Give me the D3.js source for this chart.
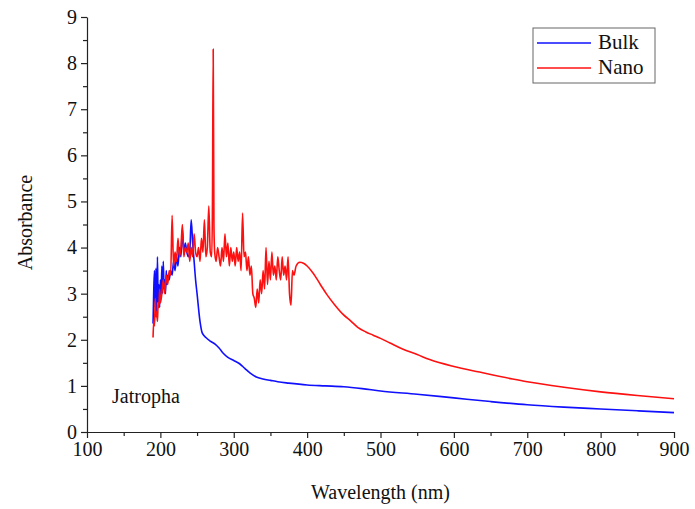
<!DOCTYPE html>
<html>
<head>
<meta charset="utf-8">
<script src="https://cdn.jsdelivr.net/npm/d3@7"></script>
<style>
  body { margin: 0; background: #fff; }
</style>
</head>
<body>
<svg id="chart" width="695" height="509"></svg>
<script>
// data
const bulkWavelength = [190,191,192,193,194,195,196,197,198,199,200,201,202,203,204,205,206,207,208,209,210,212,214,216,218,220,222,224,226,228,230,232,234,236,238,240,242,244,246,248,250,254,257,262,268,275,280,285,292,300,308,315,322,330,340,350,360,375,400,425,450,475,500,550,600,650,700,750,800,850,900]
const bulkAbsorbance = [2.35,3.1,3.5,2.7,3.55,2.6,3.8,2.8,3.2,2.7,3.3,2.9,3.6,3.0,3.7,3.1,3.3,3.0,3.5,3.2,3.4,3.3,3.5,3.4,3.7,3.5,3.8,3.6,4.0,3.8,4.4,3.9,4.1,3.9,3.8,3.9,4.6,4.1,3.7,3.3,3.0,2.4,2.15,2.05,1.97,1.9,1.82,1.72,1.62,1.55,1.48,1.38,1.28,1.2,1.15,1.12,1.09,1.06,1.02,1.0,0.98,0.94,0.89,0.82,0.74,0.66,0.59,0.54,0.5,0.46,0.42]

const nanoWavelength = [190,191,192,193,194,195,196,197,198,199,200,202,204,206,208,210,212,214,216,218,220,222,224,226,228,230,232,234,236,238,240,242,244,246,248,250,252,254,256,258,260,262,264,266,268,270,271,272,273,274,276,278,280,282,284,286,288,290,292,294,296,298,300,302,304,306,308,310,312,314,316,318,320,322,324,326,328,330,332,334,336,338,340,342,344,346,348,350,352,354,356,358,360,362,364,366,368,370,372,374,376,378,380,382,385,390,395,400,408,418,427,438,449,460,469,480,490,500,513,530,550,567,600,635,680,700,750,800,850,900]
const nanoAbsorbance = [2.05,2.4,2.3,2.9,2.5,2.6,2.4,2.8,2.7,3.1,2.8,3.0,3.3,3.0,3.4,3.2,3.5,3.4,4.7,3.6,3.9,3.7,4.2,3.8,4.0,4.5,3.8,4.0,3.9,4.1,3.7,4.0,3.8,4.3,3.9,3.8,4.0,3.7,4.2,3.9,4.6,3.8,4.0,4.9,3.9,3.8,5.0,8.3,4.5,3.9,3.7,4.0,3.8,3.6,4.0,3.7,4.3,3.8,4.1,3.6,4.0,3.7,3.9,3.6,4.0,3.7,3.9,3.5,4.75,3.8,3.9,3.5,3.8,3.4,3.6,3.0,2.9,2.7,3.1,2.8,3.3,3.0,3.5,3.1,4.0,3.2,3.7,3.3,3.9,3.4,3.6,3.3,3.8,3.5,3.3,3.8,3.4,3.6,3.3,3.8,3.0,2.75,3.5,3.4,3.6,3.68,3.66,3.6,3.45,3.2,2.98,2.75,2.55,2.4,2.27,2.17,2.1,2.03,1.93,1.8,1.68,1.57,1.42,1.3,1.15,1.09,0.97,0.87,0.79,0.72]

const xTicks = [100,200,300,400,500,600,700,800,900]
const yTicks = [0,1,2,3,4,5,6,7,8,9]
const seriesNames = ["Bulk", "Nano"]
const seriesColors = ["#1010ff", "#ff1010"]

const serif = '"Liberation Serif", "Times New Roman", Times, "DejaVu Serif", serif'

const svg = d3.select('#chart')
const mLeft = 87, mRight = 674, mTop = 17, mBottom = 432

const x = d3.scaleLinear().domain([100, 900]).range([mLeft, mRight])
const y = d3.scaleLinear().domain([0, 9]).range([mBottom, mTop])

// minor ticks
svg.append('g')
    .attr('transform', `translate(0,${mBottom})`)
    .call(d3.axisBottom(x).tickValues(d3.range(150, 900, 100)).tickSize(4).tickFormat(''))
    .call(g => g.select('.domain').remove())
svg.append('g')
    .attr('transform', `translate(${mLeft},0)`)
    .call(d3.axisLeft(y).tickValues(d3.range(0.5, 9, 1)).tickSize(4).tickFormat(''))
    .call(g => g.select('.domain').remove())

const xAxis = svg.append('g')
    .attr('transform', `translate(0,${mBottom})`)
    .call(d3.axisBottom(x).tickValues(xTicks).tickSize(6).tickSizeOuter(0).tickPadding(4))

const yAxis = svg.append('g')
    .attr('transform', `translate(${mLeft},0)`)
    .call(d3.axisLeft(y).tickValues(yTicks).tickSize(6).tickSizeOuter(0).tickPadding(4))

svg.selectAll('.tick text')
    .style('font-family', serif).style('font-size', '20px').attr('fill', '#111')
svg.selectAll('.domain, .tick line').attr('stroke', '#222').attr('stroke-width', 1.2)

const line = d3.line().x(d => x(d[0])).y(d => y(d[1])).curve(d3.curveMonotoneX)

const bulk = d3.zip(bulkWavelength, bulkAbsorbance)
const nano = d3.zip(nanoWavelength, nanoAbsorbance)

svg.append('path').datum(bulk)
    .attr('d', line).attr('fill', 'none')
    .attr('stroke', seriesColors[0]).attr('stroke-width', 1.6)
svg.append('path').datum(nano)
    .attr('d', line).attr('fill', 'none')
    .attr('stroke', seriesColors[1]).attr('stroke-width', 1.6)

// axis titles
svg.append('text')
    .attr('x', (mLeft + mRight) / 2).attr('y', 499)
    .attr('text-anchor', 'middle')
    .style('font-family', serif).style('font-size', '20px').attr('fill', '#111')
    .text('Wavelength (nm)')
svg.append('text')
    .attr('transform', `translate(32,${(mTop + mBottom) / 2 - 2}) rotate(-90)`)
    .attr('text-anchor', 'middle')
    .style('font-family', serif).style('font-size', '20px').attr('fill', '#111')
    .text('Absorbance')

svg.append('text')
    .attr('x', 112).attr('y', 403)
    .style('font-family', serif).style('font-size', '20px').attr('fill', '#111')
    .text('Jatropha')

// legend
const legend = svg.append('g').attr('transform', 'translate(533,28)')
legend.append('rect')
    .attr('width', 122).attr('height', 55)
    .attr('fill', '#fff').attr('stroke', '#666').attr('stroke-width', 1)
seriesNames.forEach((name, i) => {
    legend.append('line')
        .attr('x1', 4).attr('x2', 58)
        .attr('y1', 15 + i * 25).attr('y2', 15 + i * 25)
        .attr('stroke', seriesColors[i]).attr('stroke-width', 1.5)
    legend.append('text')
        .attr('x', 65).attr('y', 21 + i * 25)
        .style('font-family', serif).style('font-size', '21px').attr('fill', '#111')
        .text(name)
})
</script>
</body>
</html>
